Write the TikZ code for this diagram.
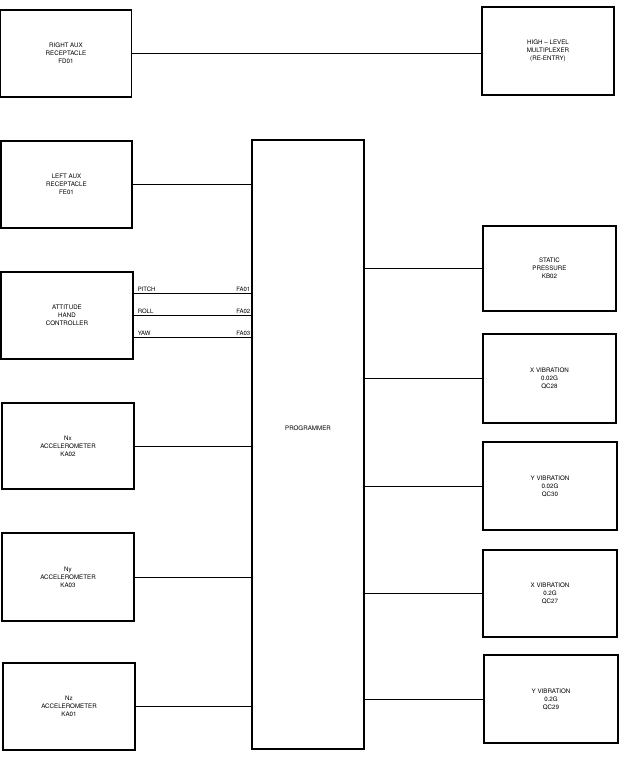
\documentclass[tikz,border=0pt]{standalone}
\usepackage{fontspec}
\setmainfont{TeX Gyre Heros}
\begin{document}
\begin{tikzpicture}[x=1pt,y=-1pt,
  blk/.style={draw, line width=1.2pt, inner sep=0pt, minimum width=131pt, minimum height=87pt, align=center, font=\fontsize{6.2}{8}\selectfont},
  wire/.style={line width=0.7pt},
  lbl/.style={inner sep=1pt, font=\fontsize{6}{7}\selectfont}]
\useasboundingbox (0,0) rectangle (626,757);
\node[blk] (raux) at (66,53.5) {RIGHT AUX\\RECEPTACLE\\FD01};
\node[blk, minimum width=132pt, minimum height=88pt] (hlm) at (548,51) {HIGH -- LEVEL\\MULTIPLEXER\\(RE-ENTRY)};
\node[blk] (laux) at (66.5,184.5) {LEFT AUX\\RECEPTACLE\\FE01};
\node[blk, minimum width=132pt] (ahc) at (67,315.5) {ATTITUDE\\HAND\\CONTROLLER};
\node[blk, minimum width=132pt, minimum height=86pt] (nx) at (68,446) {Nx\\ACCELEROMETER\\KA02};
\node[blk, minimum width=132pt, minimum height=88pt] (ny) at (68,577) {Ny\\ACCELEROMETER\\KA03};
\node[blk, minimum width=132pt] (nz) at (69,706.5) {Nz\\ACCELEROMETER\\KA01};
\node[draw, line width=1.2pt, minimum width=112pt, minimum height=609pt, inner sep=0pt] (prog) at (308,444.5) {};
\node[lbl, font=\fontsize{6.2}{8}\selectfont] (progl) at (308,428) {PROGRAMMER};
\node[blk, minimum width=133pt, minimum height=85pt] (sp) at (549.5,268.5) {STATIC\\PRESSURE\\KB02};
\node[blk, minimum width=133pt, minimum height=89pt] (xv1) at (549.5,378.5) {X VIBRATION\\0.02G\\QC28};
\node[blk, minimum width=134pt, minimum height=88pt] (yv1) at (550,486) {Y VIBRATION\\0.02G\\QC30};
\node[blk, minimum width=134pt, minimum height=87pt] (xv2) at (550,593.5) {X VIBRATION\\0.2G\\QC27};
\node[blk, minimum width=134pt, minimum height=88pt] (yv2) at (551,699) {Y VIBRATION\\0.2G\\QC29};
% connectors
\draw[wire] (raux.east) -- (raux.east -| hlm.west);
\draw[wire] (laux.east) -- (laux.east -| prog.west);
\coordinate (c1) at (0,293);
\coordinate (c2) at (0,315);
\coordinate (c3) at (0,337);
\draw[wire] (ahc.east |- c1) -- (prog.west |- c1);
\draw[wire] (ahc.east |- c2) -- (prog.west |- c2);
\draw[wire] (ahc.east |- c3) -- (prog.west |- c3);
\node[lbl, anchor=south west] at ([xshift=3pt]ahc.east |- c1) {PITCH};
\node[lbl, anchor=south west] at ([xshift=3pt]ahc.east |- c2) {ROLL};
\node[lbl, anchor=south west] at ([xshift=3pt]ahc.east |- c3) {YAW};
\node[lbl, anchor=south east] at (prog.west |- c1) {FA01};
\node[lbl, anchor=south east] at (prog.west |- c2) {FA02};
\node[lbl, anchor=south east] at (prog.west |- c3) {FA03};
\draw[wire] (nx.east) -- (nx.east -| prog.west);
\draw[wire] (ny.east) -- (ny.east -| prog.west);
\draw[wire] (nz.east) -- (nz.east -| prog.west);
\draw[wire] (prog.east |- sp.west) -- (sp.west);
\draw[wire] (prog.east |- xv1.west) -- (xv1.west);
\draw[wire] (prog.east |- yv1.west) -- (yv1.west);
\draw[wire] (prog.east |- xv2.west) -- (xv2.west);
\draw[wire] (prog.east |- yv2.west) -- (yv2.west);
\end{tikzpicture}
\end{document}
